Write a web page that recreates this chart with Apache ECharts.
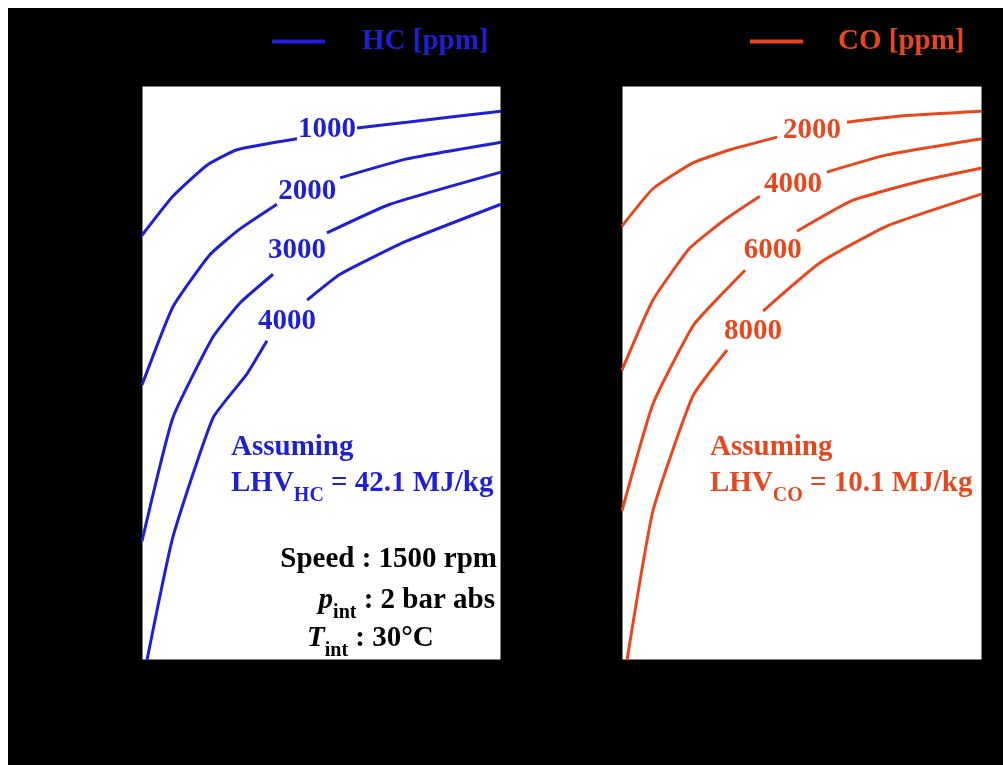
<!DOCTYPE html>
<html>
<head>
<meta charset="utf-8">
<script src="https://cdn.jsdelivr.net/npm/echarts@6/dist/echarts.min.js"></script>
<style>
html,body{margin:0;padding:0;background:#ffffff;}
#bg{position:absolute;left:8px;top:8px;width:995px;height:757px;background:#000;}
#chart{position:absolute;left:0;top:0;width:1003px;height:765px;}
</style>
</head>
<body>
<div id="bg"></div>
<div id="chart"></div>
<script>
// ---- data (axis units 0..100 on both panels; null = gap where the contour label sits) ----
const hc1000X = [0, 8.6, 18.1, 26.5, 43.2, 51.5, 59.9, 73.8, 100];
const hc1000Y = [74.0, 80.8, 86.2, 88.9, 90.8, null, 92.7, 93.7, 95.6];
const hc2000X = [0, 8.6, 18.9, 27.3, 37.6, 46.0, 55.2, 73.8, 100];
const hc2000Y = [47.9, 61.5, 70.6, 75.1, 79.4, null, 84.0, 87.3, 90.2];
const hc3000X = [0, 8.6, 19.8, 27.3, 36.5, 43.2, 51.5, 69.1, 100];
const hc3000Y = [20.7, 42.2, 56.3, 62.2, 67.2, null, 74.4, 79.4, 85.0];
const hc4000X = [1.4, 8.6, 19.8, 29.2, 34.8, 40.4, 46.0, 55.2, 73.8, 100];
const hc4000Y = [0, 21.4, 42.2, 49.8, 55.6, null, 62.7, 67.2, 73.0, 79.4];

const co2000X = [0, 8.6, 19.7, 30.0, 43.1, 52.8, 62.5, 78.1, 100];
const co2000Y = [75.6, 82.1, 86.6, 88.9, 91.1, null, 93.7, 94.8, 95.6];
const co4000X = [0, 8.6, 18.9, 29.2, 38.3, 47.5, 56.9, 73.6, 100];
const co4000Y = [50.5, 62.7, 71.8, 77.0, 80.8, null, 85.0, 88.0, 90.8];
const co6000X = [0, 8.6, 19.7, 27.2, 34.2, 41.9, 48.6, 64.2, 82.8, 100];
const co6000Y = [26.0, 44.6, 58.2, 63.4, 67.9, null, 74.7, 80.1, 83.4, 85.7];
const co8000X = [1.4, 8.6, 19.7, 29.2, 36.4, 39.2, 55.0, 73.6, 100];
const co8000Y = [0, 26.0, 46.0, 54.0, null, 60.8, 69.2, 75.6, 81.2];

const hcLabels = ['1000', '2000', '3000', '4000'];
const hcLabelX = [51.5, 46.0, 43.2, 40.4];
const hcLabelY = [92.5, 81.7, 71.4, 58.9];
const coLabels = ['2000', '4000', '6000', '8000'];
const coLabelX = [52.8, 47.5, 41.9, 36.4];
const coLabelY = [92.3, 82.8, 71.4, 57.3];

const HC_NAME = 'HC [ppm]';
const CO_NAME = 'CO [ppm]';
// -----------------------------------------------------------------------------------------

const BLUE = '#1f1fd8';
const ORANGE = '#e8471d';
const SERIF = '"Liberation Serif","Times New Roman",serif';
const FS = 29;

function pts(xs, ys) { return xs.map((x, i) => [x, ys[i] === null ? '-' : ys[i]]); }
function curve(name, xs, ys, gi, color) {
  return {
    type: 'line', name: name, xAxisIndex: gi, yAxisIndex: gi,
    data: pts(xs, ys), showSymbol: false, symbol: 'none', connectNulls: false,
    smooth: 0.15, lineStyle: { color: color, width: 3 }, itemStyle: { color: color },
    silent: true, z: 3
  };
}
function labelSeries(names, xs, ys, gi, color) {
  return {
    type: 'scatter', name: 'labels' + gi, xAxisIndex: gi, yAxisIndex: gi,
    symbolSize: 0, silent: true, z: 4, itemStyle: { opacity: 1, color: color },
    data: names.map((n, i) => ({ name: n, value: [xs[i], ys[i]] })),
    label: { show: true, position: 'inside', formatter: p => p.name, opacity: 1,
      color: color, fontFamily: SERIF, fontWeight: 'bold', fontSize: FS }
  };
}
function axis(gi) {
  return { type: 'value', gridIndex: gi, min: 0, max: 100,
    axisLabel: { show: false }, axisTick: { show: false }, splitLine: { show: false },
    axisLine: { show: false } };
}

const chart = echarts.init(document.getElementById('chart'), null, { renderer: 'canvas' });

const tok = (fs, extra) => Object.assign({ fontFamily: SERIF, fontWeight: 'bold', fontSize: fs, verticalAlign: 'bottom' }, extra || {});
const MAIN = tok(FS, { padding: [0, 0, 8, 0] });
const ITAL = tok(FS, { fontStyle: 'italic', padding: [0, 0, 8, 0] });
const SUB = tok(20);

chart.setOption({
  backgroundColor: 'transparent',
  animation: false,
  grid: [
    { left: 142, top: 86, width: 359, height: 574, show: true, backgroundColor: '#ffffff', borderColor: '#000', borderWidth: 1 },
    { left: 622, top: 86, width: 360, height: 574, show: true, backgroundColor: '#ffffff', borderColor: '#000', borderWidth: 1 }
  ],
  xAxis: [axis(0), axis(1)],
  yAxis: [axis(0), axis(1)],
  legend: [
    { left: 272, top: 27, padding: 0, data: [{ name: HC_NAME, icon: 'rect' }], itemWidth: 53, itemHeight: 4,
      textStyle: { color: BLUE, fontFamily: SERIF, fontWeight: 'bold', fontSize: FS, padding: [0, 0, 0, 32] },
      selectedMode: false },
    { left: 750, top: 27, padding: 0, data: [{ name: CO_NAME, icon: 'rect' }], itemWidth: 53, itemHeight: 4,
      textStyle: { color: ORANGE, fontFamily: SERIF, fontWeight: 'bold', fontSize: FS, padding: [0, 0, 0, 30] },
      selectedMode: false }
  ],
  graphic: [
    { type: 'text', left: 231, top: 433, z: 10, style: { text: 'Assuming', fill: BLUE, font: 'bold ' + FS + 'px ' + SERIF } },
    { type: 'text', left: 231, top: 469, z: 10, style: {
      text: '{a|LHV}{s|HC}{a| = 42.1 MJ/kg}', fill: BLUE, rich: { a: MAIN, s: SUB } } },
    { type: 'text', left: 710, top: 433, z: 10, style: { text: 'Assuming', fill: ORANGE, font: 'bold ' + FS + 'px ' + SERIF } },
    { type: 'text', left: 710, top: 469, z: 10, style: {
      text: '{a|LHV}{s|CO}{a| = 10.1 MJ/kg}', fill: ORANGE, rich: { a: MAIN, s: SUB } } },
    { type: 'text', right: 1003 - 497, top: 545, z: 10, style: { text: 'Speed : 1500 rpm', fill: '#000', font: 'bold ' + FS + 'px ' + SERIF } },
    { type: 'text', right: 1003 - 495, top: 586, z: 10, style: {
      text: '{i|p}{s|int}{a| : 2 bar abs}', fill: '#000', rich: { i: ITAL, a: MAIN, s: SUB } } },
    { type: 'text', left: 307, top: 624, z: 10, style: {
      text: '{i|T}{s|int}{a| : 30°C}', fill: '#000', rich: { i: ITAL, a: MAIN, s: SUB } } }
  ],
  series: [
    curve(HC_NAME, hc1000X, hc1000Y, 0, BLUE),
    curve(HC_NAME, hc2000X, hc2000Y, 0, BLUE),
    curve(HC_NAME, hc3000X, hc3000Y, 0, BLUE),
    curve(HC_NAME, hc4000X, hc4000Y, 0, BLUE),
    curve(CO_NAME, co2000X, co2000Y, 1, ORANGE),
    curve(CO_NAME, co4000X, co4000Y, 1, ORANGE),
    curve(CO_NAME, co6000X, co6000Y, 1, ORANGE),
    curve(CO_NAME, co8000X, co8000Y, 1, ORANGE),
    labelSeries(hcLabels, hcLabelX, hcLabelY, 0, BLUE),
    labelSeries(coLabels, coLabelX, coLabelY, 1, ORANGE)
  ]
});
</script>
</body>
</html>
